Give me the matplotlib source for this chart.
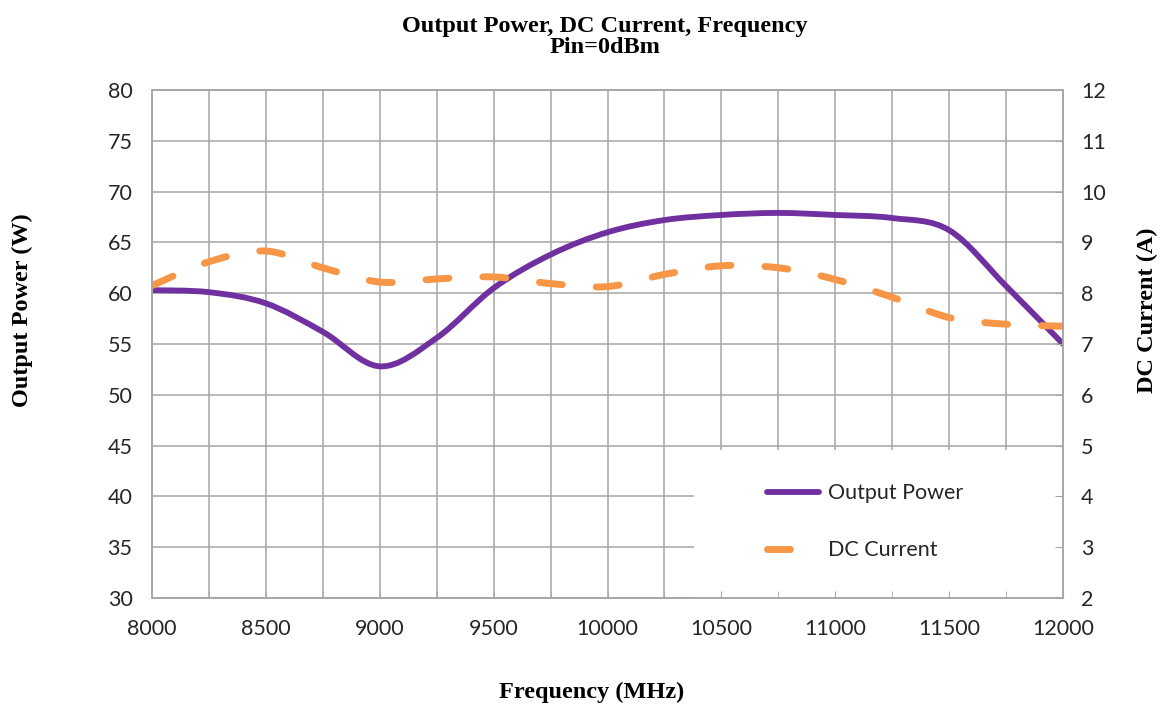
import matplotlib
matplotlib.use('Agg')
import matplotlib.pyplot as plt
import numpy as np
from matplotlib.path import Path
from matplotlib.patches import PathPatch, Rectangle
from matplotlib.lines import Line2D
from matplotlib.ticker import MultipleLocator

# data (every 250 MHz)
freq = [8000, 8250, 8500, 8750, 9000, 9250, 9500, 9750, 10000,
        10250, 10500, 10750, 11000, 11250, 11500, 11750, 12000]
power = [60.3, 60.1, 59.0, 56.2, 52.8, 55.6, 60.5, 63.8, 66.0,
         67.2, 67.7, 67.9, 67.7, 67.4, 66.2, 60.7, 55.0]
current = [8.15, 8.62, 8.83, 8.50, 8.22, 8.28, 8.32, 8.19, 8.13,
           8.37, 8.54, 8.50, 8.27, 7.92, 7.52, 7.39, 7.35]

purple = '#7030A0'
orange = '#F79646'
grid_c = '#A6A6A6'
text_c = '#262626'
serif = 'Liberation Serif'
sans = 'Lato'


def smooth_path(x, y):
    # Excel-style smoothed line: cubic bezier through every point
    p = np.column_stack([x, y]).astype(float)
    verts = [p[0]]
    codes = [Path.MOVETO]
    n = len(p)
    for i in range(n - 1):
        p0 = p[i - 1] if i > 0 else p[i]
        p3 = p[i + 2] if i + 2 < n else p[i + 1]
        c1 = p[i] + (p[i + 1] - p0) / 6.0
        c2 = p[i + 1] - (p3 - p[i]) / 6.0
        verts += [c1, c2, p[i + 1]]
        codes += [Path.CURVE4] * 3
    return Path(verts, codes)


fig = plt.figure(figsize=(11.66, 7.12), dpi=100)
ax = fig.add_axes([0.1304, 0.1601, 0.7813, 0.7135])
ax2 = ax.twinx()

ax.set_xlim(8000, 12000)
ax.set_ylim(30, 80)
ax2.set_ylim(2, 12)

ax.xaxis.set_major_locator(MultipleLocator(500))
ax.xaxis.set_minor_locator(MultipleLocator(250))
ax.yaxis.set_major_locator(MultipleLocator(5))
ax2.yaxis.set_major_locator(MultipleLocator(1))

ax.grid(True, which='both', axis='both', color=grid_c, linewidth=1.1)

# white area behind the legend hides the grid there
ax.add_patch(Rectangle((0.595, 0.0), 0.405, 0.291, transform=ax.transAxes,
                       facecolor='white', edgecolor='none', zorder=1.8))

ax.add_patch(PathPatch(smooth_path(freq, power), facecolor='none',
                       edgecolor=purple, linewidth=4.2, capstyle='round',
                       zorder=2))
ax2.add_patch(PathPatch(smooth_path(freq, current), facecolor='none',
                        edgecolor=orange, linewidth=5,
                        linestyle=(0, (3.3, 4.9)), capstyle='round',
                        zorder=2))

for a in (ax, ax2):
    for s in a.spines.values():
        s.set_color(grid_c)
        s.set_linewidth(1.1)

ax.tick_params(axis='both', which='both', length=0, labelsize=15.5,
               labelcolor=text_c)
ax.tick_params(axis='x', pad=15)
ax.tick_params(axis='y', pad=14)
ax2.xaxis.set_visible(True)
ax2.tick_params(axis='x', which='both', direction='in', length=5,
                color=grid_c, labelbottom=False)
ax2.tick_params(axis='y', direction='in', length=6, color=grid_c,
                labelsize=15.5, labelcolor=text_c, pad=13)
for lab in ax.get_xticklabels() + ax.get_yticklabels() + ax2.get_yticklabels():
    lab.set_family(sans)

ax.set_xlabel('Frequency (MHz)', fontsize=17.5, fontweight='bold',
              family=serif)
ax.xaxis.set_label_coords(0.483, -0.165)
ax.set_ylabel('Output Power (W)', fontsize=17.5, fontweight='bold',
              family=serif)
ax.yaxis.set_label_coords(-0.1306, 0.567)
ax2.set_ylabel('DC Current (A)', fontsize=17.5, fontweight='bold',
               family=serif)
ax2.yaxis.set_label_coords(1.081, 0.567)

fig.text(0.519, 0.955, 'Output Power, DC Current, Frequency', ha='center',
         va='baseline', fontsize=17.5, fontweight='bold', family=serif)
fig.text(0.519, 0.9256, 'Pin=0dBm', ha='center', va='baseline',
         fontsize=17.5, fontweight='bold', family=serif)

handles = [Line2D([], [], color=purple, linewidth=4.2, solid_capstyle='round'),
           Line2D([], [], color=orange, linewidth=5, dashes=(3.3, 4.9),
                  dash_capstyle='round')]
ax2.legend(handles, ['Output Power', 'DC Current'], loc='upper left',
           bbox_to_anchor=(0.675, 0.226), frameon=False, borderpad=0,
           borderaxespad=0, handlelength=2.4, handletextpad=0.45,
           labelspacing=1.72, prop={'family': sans, 'size': 15.5},
           labelcolor=text_c)

fig.savefig('out.png', dpi=100, facecolor='white')
